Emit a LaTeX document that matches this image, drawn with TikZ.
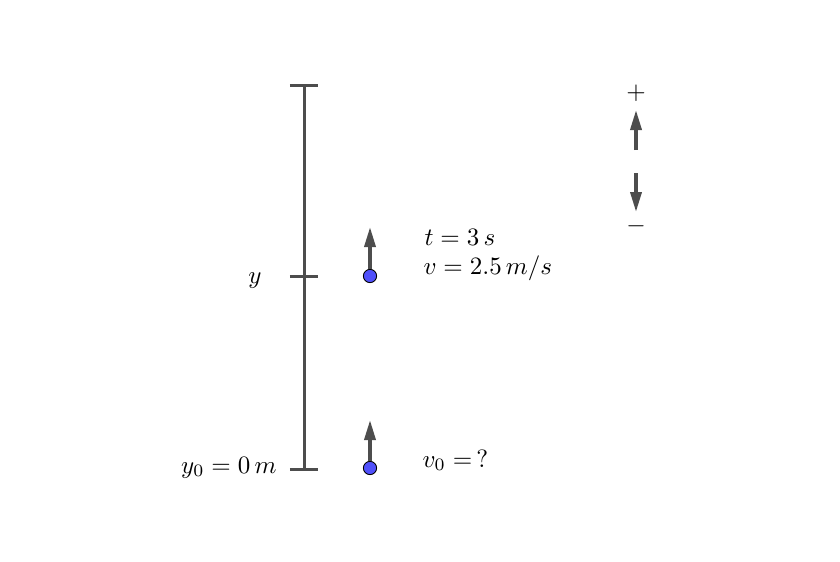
\documentclass[tikz,border=0pt]{standalone}
\usepackage{tikz}
\usetikzlibrary{positioning,arrows.meta}
\definecolor{axGray}{RGB}{77,77,77}
\definecolor{ptBlue}{RGB}{80,80,250}

\begin{document}
\begin{tikzpicture}[x=0.4pt,y=-0.4pt,
  axis/.style={axGray, line width=1.2pt},
  vec/.style={axGray, line width=1.4pt, -{Triangle[length=8pt,width=4.4pt]}},
  ball/.style={circle, draw=black, fill=ptBlue, line width=0.35pt, minimum size=5.3pt, inner sep=0pt}]
  \useasboundingbox (0,0) rectangle (840,561);

  % Height axis with ticks
  \coordinate (top) at (304,85);
  \coordinate (mid) at (304,276);
  \coordinate (bot) at (304,469);
  \draw[axis] (bot) -- (top);
  \foreach \c in {top,mid,bot}
    \draw[axis] ([xshift=-5.7pt]\c) -- ([xshift=5.7pt]\c);
  \node[anchor=base east, inner sep=0pt] (ylab) at (262,283) {$y$};
  \node[anchor=base east, inner sep=0pt] (y0lab) at (277,473) {$y_0=0\,m$};

  % Ball at time t
  \node[ball] (ballT) at (370,276) {};
  \coordinate (tipT) at (370,227);
  \draw[vec] (ballT) -- (tipT);
  \node[anchor=base west, inner sep=0pt] (tlab) at (424,245) {$t=3\,s$};
  \node[anchor=base west, inner sep=0pt] (vlab) at (423,274) {$v=2.5\,m/s$};

  % Ball at start
  \node[ball] (ballS) at (370,468) {};
  \coordinate (tipS) at (370,420);
  \draw[vec] (ballS) -- (tipS);
  \node[anchor=base west, inner sep=0pt] (v0lab) at (422,467) {$v_0=\,?$};

  % Sign convention
  \node (plus) at (636,93) {$+$};
  \node (minus) at (636,226) {$-$};
  \coordinate (upS) at (636,150);
  \coordinate (upT) at (636,110);
  \coordinate (dnS) at (636,173);
  \coordinate (dnT) at (636,212);
  \draw[vec] (upS) -- (upT);
  \draw[vec] (dnS) -- (dnT);
\end{tikzpicture}
\end{document}
